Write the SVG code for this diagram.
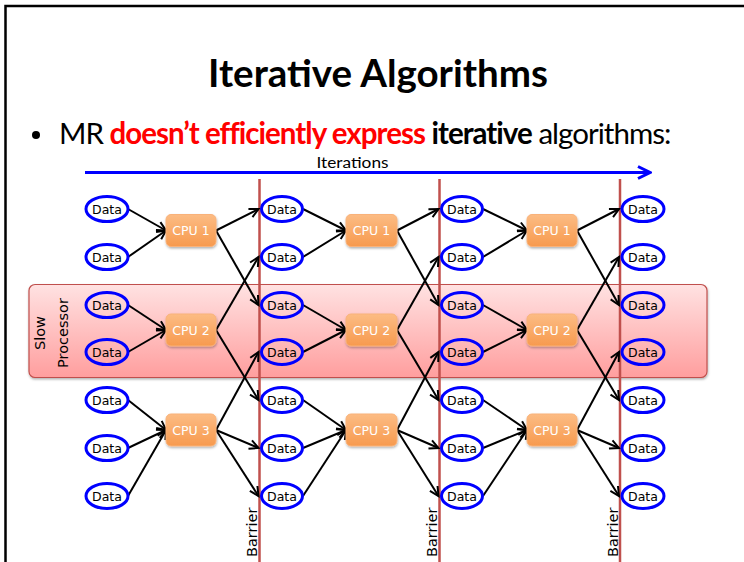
<svg xmlns="http://www.w3.org/2000/svg" width="744" height="562" viewBox="0 0 744 562">
<style>
.ttl{font-family:Lato,"Liberation Sans",sans-serif;font-weight:bold;font-size:38px;fill:#000}
.bl{font-family:Lato,"Liberation Sans",sans-serif;font-size:29.5px;letter-spacing:-0.97px;fill:#000}
.b{font-weight:bold}
.red{fill:#ff0000}
.it{font-family:Lato,"Liberation Sans",sans-serif;font-size:14.5px;fill:#000}
.side{font-family:"DejaVu Sans",Verdana,sans-serif;font-size:14.5px;fill:#000}
.data ellipse{fill:none;stroke:#0000ff;stroke-width:3}
.data text{font-family:"DejaVu Sans",Verdana,sans-serif;font-size:12.5px;fill:#000;text-anchor:middle}
.cpu rect{fill:url(#og);stroke:#f9b27a;stroke-width:1;filter:url(#sh)}
.cpu text{font-family:"DejaVu Sans",Verdana,sans-serif;font-size:12.5px;fill:#fff;text-anchor:middle}
.bar{stroke:#c0504d;stroke-width:2.5}
#connectors line{stroke:#000;stroke-width:2;marker-end:url(#ah)}
</style>
<defs>
<linearGradient id="og" x1="0" y1="0" x2="0" y2="1">
<stop offset="0" stop-color="#fcbc84"/>
<stop offset="1" stop-color="#f79a4e"/>
</linearGradient>
<linearGradient id="pg" x1="0" y1="0" x2="0" y2="1">
<stop offset="0" stop-color="#ffe2e2"/>
<stop offset="1" stop-color="#ff9e9e"/>
</linearGradient>
<filter id="sh" x="-20%" y="-20%" width="140%" height="150%">
<feDropShadow dx="0.5" dy="1.5" stdDeviation="1" flood-color="#000" flood-opacity="0.3"/>
</filter>
<marker id="ah" viewBox="-11 -6 13 12" markerWidth="13" markerHeight="12" refX="0" refY="0" orient="auto" markerUnits="userSpaceOnUse">
<path d="M-9,-4.5 L0,0 L-9,4.5" fill="none" stroke="#000" stroke-width="2"/>
</marker>
<marker id="bh" viewBox="-15 -8 17 16" markerWidth="17" markerHeight="16" refX="0" refY="0" orient="auto" markerUnits="userSpaceOnUse">
<path d="M-12,-6 L0,0 L-12,6" fill="none" stroke="#0000ff" stroke-width="3"/>
</marker>
</defs>
<rect width="744" height="562" fill="#fff"/>
<path d="M5.5,562 L5.5,6 L744,6" fill="none" stroke="#000" stroke-width="2.5"/>

<text class="ttl" x="378" y="87" text-anchor="middle" textLength="340" lengthAdjust="spacingAndGlyphs">Iterative Algorithms</text>
<circle cx="36" cy="135" r="4" fill="#000"/>
<text class="bl" x="59" y="144">MR <tspan class="b red">doesn’t efficiently express</tspan> <tspan class="b">iterative</tspan> algorithms:</text>

<g id="iterations">
<text class="it" x="352.5" y="168" text-anchor="middle" textLength="72" lengthAdjust="spacingAndGlyphs">Iterations</text>
<line x1="85" y1="172.5" x2="650" y2="172.5" stroke="#0000ff" stroke-width="3" marker-end="url(#bh)"/>
</g>

<g id="slow-processor">
<rect x="29" y="284.5" width="678" height="93" rx="6" fill="url(#pg)" stroke="#c0504d" stroke-width="1.2" filter="url(#sh)"/>
<text class="side" transform="translate(44.5,333) rotate(-90)" text-anchor="middle">Slow</text>
<text class="side" transform="translate(67.5,333) rotate(-90)" text-anchor="middle">Processor</text>
</g>

<g id="barriers">
<line class="bar" x1="259.5" y1="179" x2="259.5" y2="562"/>
<line class="bar" x1="439.5" y1="179" x2="439.5" y2="562"/>
<line class="bar" x1="620" y1="179" x2="620" y2="562"/>
<text class="side" transform="translate(257,557) rotate(-90)">Barrier</text>
<text class="side" transform="translate(437,557) rotate(-90)">Barrier</text>
<text class="side" transform="translate(617.5,557) rotate(-90)">Barrier</text>
</g>

<g id="connectors">
<line x1="128" y1="209" x2="166" y2="230.5"/>
<line x1="128" y1="257" x2="166" y2="230.5"/>
<line x1="128" y1="305" x2="166" y2="330"/>
<line x1="128" y1="352" x2="166" y2="330"/>
<line x1="128" y1="400" x2="166" y2="430"/>
<line x1="128" y1="448" x2="166" y2="430"/>
<line x1="128" y1="496" x2="166" y2="430"/>
<line x1="216" y1="230.5" x2="258.5" y2="209"/>
<line x1="216" y1="230.5" x2="258.5" y2="305"/>
<line x1="216" y1="330" x2="258.5" y2="257"/>
<line x1="216" y1="330" x2="258.5" y2="400"/>
<line x1="216" y1="430" x2="258.5" y2="352"/>
<line x1="216" y1="430" x2="258.5" y2="448"/>
<line x1="216" y1="430" x2="258.5" y2="496"/>
<line x1="303" y1="209" x2="346" y2="230.5"/>
<line x1="303" y1="257" x2="346" y2="230.5"/>
<line x1="303" y1="305" x2="346" y2="330"/>
<line x1="303" y1="352" x2="346" y2="330"/>
<line x1="303" y1="400" x2="346" y2="430"/>
<line x1="303" y1="448" x2="346" y2="430"/>
<line x1="303" y1="496" x2="346" y2="430"/>
<line x1="397" y1="230.5" x2="438.5" y2="209"/>
<line x1="397" y1="230.5" x2="438.5" y2="305"/>
<line x1="397" y1="330" x2="438.5" y2="257"/>
<line x1="397" y1="330" x2="438.5" y2="400"/>
<line x1="397" y1="430" x2="438.5" y2="352"/>
<line x1="397" y1="430" x2="438.5" y2="448"/>
<line x1="397" y1="430" x2="438.5" y2="496"/>
<line x1="483" y1="209" x2="527" y2="230.5"/>
<line x1="483" y1="257" x2="527" y2="230.5"/>
<line x1="483" y1="305" x2="527" y2="330"/>
<line x1="483" y1="352" x2="527" y2="330"/>
<line x1="483" y1="400" x2="527" y2="430"/>
<line x1="483" y1="448" x2="527" y2="430"/>
<line x1="483" y1="496" x2="527" y2="430"/>
<line x1="577" y1="230.5" x2="619" y2="209"/>
<line x1="577" y1="230.5" x2="619" y2="305"/>
<line x1="577" y1="330" x2="619" y2="257"/>
<line x1="577" y1="330" x2="619" y2="400"/>
<line x1="577" y1="430" x2="619" y2="352"/>
<line x1="577" y1="430" x2="619" y2="448"/>
<line x1="577" y1="430" x2="619" y2="496"/>
</g>

<g id="d1-1" class="data"><ellipse cx="107" cy="209" rx="21" ry="12.5"/><text x="107" y="213.5">Data</text></g>
<g id="d1-2" class="data"><ellipse cx="107" cy="257" rx="21" ry="12.5"/><text x="107" y="261.5">Data</text></g>
<g id="d1-3" class="data"><ellipse cx="107" cy="305" rx="21" ry="12.5"/><text x="107" y="309.5">Data</text></g>
<g id="d1-4" class="data"><ellipse cx="107" cy="352" rx="21" ry="12.5"/><text x="107" y="356.5">Data</text></g>
<g id="d1-5" class="data"><ellipse cx="107" cy="400" rx="21" ry="12.5"/><text x="107" y="404.5">Data</text></g>
<g id="d1-6" class="data"><ellipse cx="107" cy="448" rx="21" ry="12.5"/><text x="107" y="452.5">Data</text></g>
<g id="d1-7" class="data"><ellipse cx="107" cy="496" rx="21" ry="12.5"/><text x="107" y="500.5">Data</text></g>
<g id="d2-1" class="data"><ellipse cx="282" cy="209" rx="20.5" ry="12.5"/><text x="282" y="213.5">Data</text></g>
<g id="d2-2" class="data"><ellipse cx="282" cy="257" rx="20.5" ry="12.5"/><text x="282" y="261.5">Data</text></g>
<g id="d2-3" class="data"><ellipse cx="282" cy="305" rx="20.5" ry="12.5"/><text x="282" y="309.5">Data</text></g>
<g id="d2-4" class="data"><ellipse cx="282" cy="352" rx="20.5" ry="12.5"/><text x="282" y="356.5">Data</text></g>
<g id="d2-5" class="data"><ellipse cx="282" cy="400" rx="20.5" ry="12.5"/><text x="282" y="404.5">Data</text></g>
<g id="d2-6" class="data"><ellipse cx="282" cy="448" rx="20.5" ry="12.5"/><text x="282" y="452.5">Data</text></g>
<g id="d2-7" class="data"><ellipse cx="282" cy="496" rx="20.5" ry="12.5"/><text x="282" y="500.5">Data</text></g>
<g id="d3-1" class="data"><ellipse cx="462" cy="209" rx="20.5" ry="12.5"/><text x="462" y="213.5">Data</text></g>
<g id="d3-2" class="data"><ellipse cx="462" cy="257" rx="20.5" ry="12.5"/><text x="462" y="261.5">Data</text></g>
<g id="d3-3" class="data"><ellipse cx="462" cy="305" rx="20.5" ry="12.5"/><text x="462" y="309.5">Data</text></g>
<g id="d3-4" class="data"><ellipse cx="462" cy="352" rx="20.5" ry="12.5"/><text x="462" y="356.5">Data</text></g>
<g id="d3-5" class="data"><ellipse cx="462" cy="400" rx="20.5" ry="12.5"/><text x="462" y="404.5">Data</text></g>
<g id="d3-6" class="data"><ellipse cx="462" cy="448" rx="20.5" ry="12.5"/><text x="462" y="452.5">Data</text></g>
<g id="d3-7" class="data"><ellipse cx="462" cy="496" rx="20.5" ry="12.5"/><text x="462" y="500.5">Data</text></g>
<g id="d4-1" class="data"><ellipse cx="643" cy="209" rx="21" ry="12.5"/><text x="643" y="213.5">Data</text></g>
<g id="d4-2" class="data"><ellipse cx="643" cy="257" rx="21" ry="12.5"/><text x="643" y="261.5">Data</text></g>
<g id="d4-3" class="data"><ellipse cx="643" cy="305" rx="21" ry="12.5"/><text x="643" y="309.5">Data</text></g>
<g id="d4-4" class="data"><ellipse cx="643" cy="352" rx="21" ry="12.5"/><text x="643" y="356.5">Data</text></g>
<g id="d4-5" class="data"><ellipse cx="643" cy="400" rx="21" ry="12.5"/><text x="643" y="404.5">Data</text></g>
<g id="d4-6" class="data"><ellipse cx="643" cy="448" rx="21" ry="12.5"/><text x="643" y="452.5">Data</text></g>
<g id="d4-7" class="data"><ellipse cx="643" cy="496" rx="21" ry="12.5"/><text x="643" y="500.5">Data</text></g>

<g id="cpu1-1" class="cpu"><rect x="166" y="214.5" width="50" height="32" rx="5"/><text x="191" y="235">CPU 1</text></g>
<g id="cpu1-2" class="cpu"><rect x="166" y="314" width="50" height="32" rx="5"/><text x="191" y="334.5">CPU 2</text></g>
<g id="cpu1-3" class="cpu"><rect x="166" y="414" width="50" height="32" rx="5"/><text x="191" y="434.5">CPU 3</text></g>
<g id="cpu2-1" class="cpu"><rect x="346" y="214.5" width="51" height="32" rx="5"/><text x="371.5" y="235">CPU 1</text></g>
<g id="cpu2-2" class="cpu"><rect x="346" y="314" width="51" height="32" rx="5"/><text x="371.5" y="334.5">CPU 2</text></g>
<g id="cpu2-3" class="cpu"><rect x="346" y="414" width="51" height="32" rx="5"/><text x="371.5" y="434.5">CPU 3</text></g>
<g id="cpu3-1" class="cpu"><rect x="527" y="214.5" width="50" height="32" rx="5"/><text x="552" y="235">CPU 1</text></g>
<g id="cpu3-2" class="cpu"><rect x="527" y="314" width="50" height="32" rx="5"/><text x="552" y="334.5">CPU 2</text></g>
<g id="cpu3-3" class="cpu"><rect x="527" y="414" width="50" height="32" rx="5"/><text x="552" y="434.5">CPU 3</text></g>
</svg>
